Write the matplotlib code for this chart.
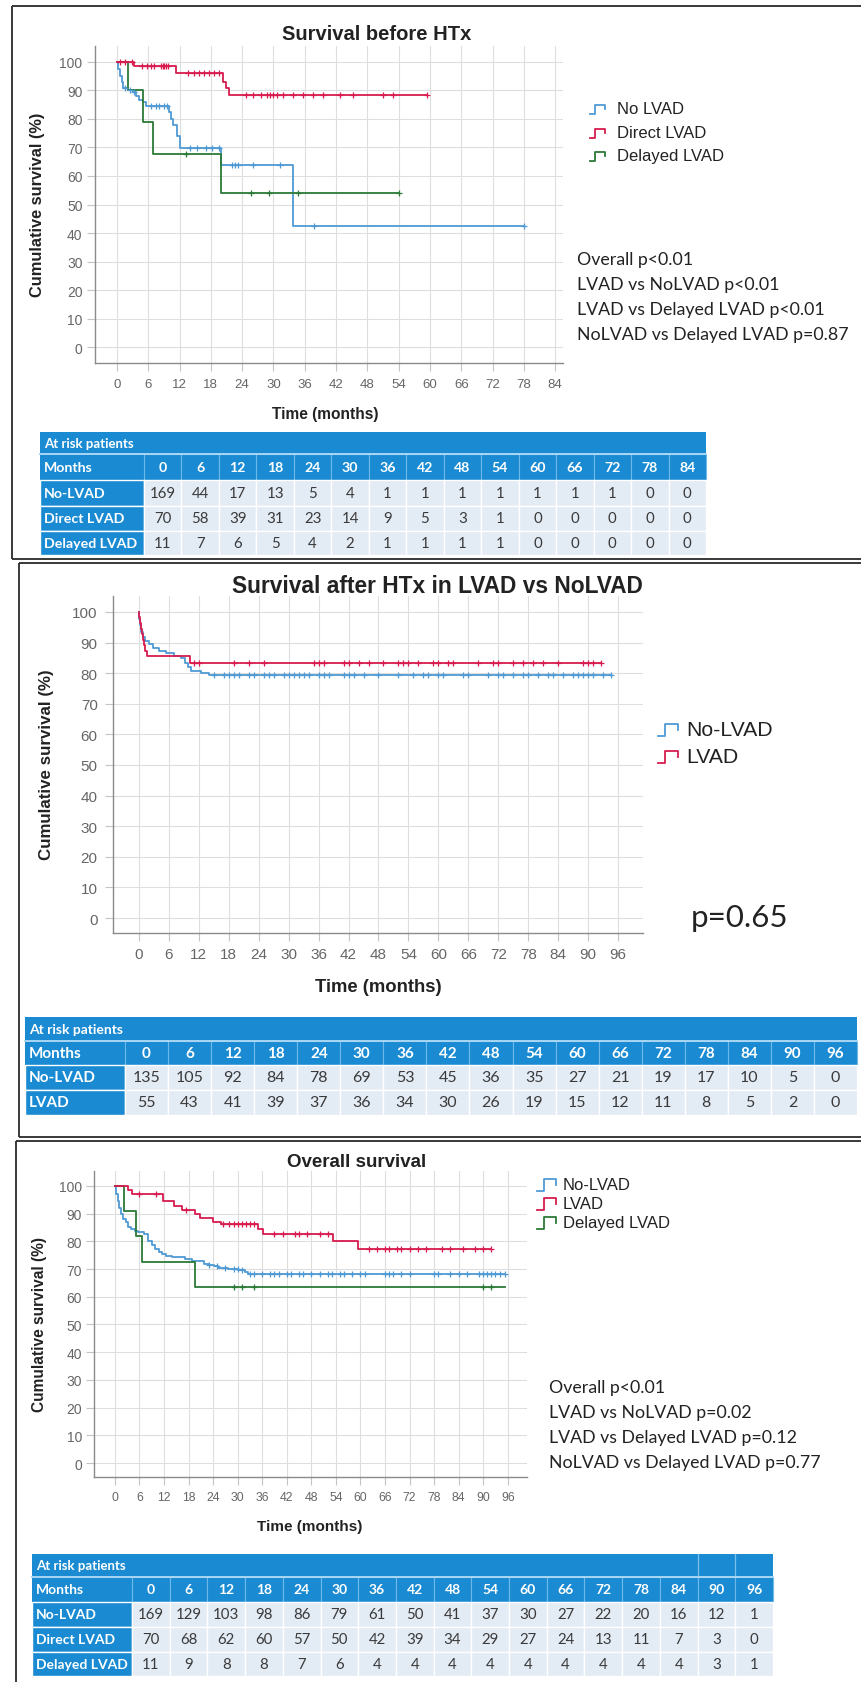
import numpy as np
import matplotlib
matplotlib.use("Agg")
import matplotlib.pyplot as plt
from matplotlib.patches import Rectangle

# ---------------- DATA ----------------
# Panel 1: Survival before HTx
p1_nolvad_t = [0, 0.3, 0.6, 0.9, 1.2, 2.1, 3.0, 3.7, 4.2, 5.0, 5.6, 9.9, 10.4, 10.8, 11.5, 12.0, 19.9, 33.7, 78.0]
p1_nolvad_s = [100, 97.5, 95.0, 93.0, 91.0, 90.2, 89.5, 88.0, 86.6, 85.8, 84.6, 82.3, 79.9, 77.8, 74.0, 69.8, 63.9, 42.6, 42.6]
p1_nolvad_c = [1.5, 2.5, 3.2, 6.5, 7.4, 8.0, 9.0, 9.6, 14.1, 15.4, 17.0, 18.3, 19.5, 22.0, 22.6, 23.2, 26.1, 31.2, 37.7, 78.0]
p1_direct_t = [0, 3.2, 11.4, 20.4, 21.0, 21.5, 59.4]
p1_direct_s = [100, 98.5, 96.0, 92.8, 90.8, 88.4, 88.4]
p1_direct_c = [0.5, 1.5, 2.8, 4.8, 5.7, 6.5, 7.1, 8.5, 8.8, 9.1, 9.4, 9.8, 13.6, 14.8, 15.8, 16.6, 17.6,
               18.7, 19.5, 24.8, 26.1, 27.7, 28.7, 29.3, 29.9, 30.6, 31.8, 33.7, 35.6, 37.6, 39.5, 42.7,
               45.2, 51.0, 52.9, 59.4]
p1_delayed_t = [0, 2.1, 5.0, 6.9, 19.9, 54.1]
p1_delayed_s = [100, 90.2, 78.8, 67.7, 54.0, 54.0]
p1_delayed_c = [13.2, 25.7, 29.2, 34.8, 54.1]

# Panel 2: Survival after HTx in LVAD vs NoLVAD
p2_nolvad_t = [0, 0.1, 0.3, 0.5, 0.8, 1.3, 2.0, 2.8, 4.0, 5.5, 7.0, 8.5, 9.2, 9.8, 10.5, 12.5, 14.0, 94.5]
p2_nolvad_s = [100, 97.8, 95.6, 93.3, 91.9, 90.4, 89.6, 88.1, 87.3, 86.5, 85.7, 84.9, 83.4, 82.0, 80.8, 80.1, 79.4, 79.4]
p2_nolvad_c = [15, 17, 18, 19, 20, 22, 23, 25, 26, 27, 29, 30, 31, 32, 33, 34, 36, 37, 38, 41, 42, 43, 45,
               48, 52, 55, 57, 58, 60, 61, 65, 66, 70, 72, 73, 75, 77, 78, 80, 82, 83, 85, 87, 88, 89, 90,
               91, 93, 94.5]
p2_lvad_t = [0, 0.1, 0.2, 0.4, 0.6, 0.8, 1.0, 1.3, 1.7, 10.3, 92.5]
p2_lvad_s = [100, 98.2, 96.4, 94.5, 92.7, 90.9, 89.1, 87.3, 85.5, 83.4, 83.4]
p2_lvad_c = [11, 12, 19, 22, 25, 35, 36, 37, 41, 42, 44, 46, 49, 52, 53, 54, 56, 59, 60, 62, 63, 68, 71,
             72, 75, 77, 79, 81, 84, 89, 90, 91, 92.5]

# Panel 3: Overall survival
p3_nolvad_t = [0, 0.3, 0.7, 1.0, 1.4, 2.0, 2.6, 3.2, 4.0, 4.8, 5.7, 7.0, 8.2, 9.0, 9.9, 10.7, 11.5, 12.5,
               13.9, 17.2, 18.8, 20.5, 21.8, 22.9, 24.2, 25.3, 27.7, 30.1, 31.8, 32.6, 95.4]
p3_nolvad_s = [100, 97.0, 94.5, 92.0, 89.9, 88.2, 87.0, 85.2, 84.5, 83.8, 83.4, 82.5, 80.1, 78.7, 77.3,
               76.2, 75.5, 74.8, 74.2, 73.5, 73.0, 72.8, 72.0, 71.5, 71.0, 70.4, 70.0, 69.5, 68.9, 68.1, 68.1]
p3_nolvad_c = [23, 25, 27, 29, 30, 31, 33, 34, 36, 38, 39, 40, 42, 43, 45, 46, 48, 50, 52, 53, 55, 56, 58,
               60, 61, 66, 67, 68, 70, 72, 78, 79, 82, 84, 86, 89, 90, 91, 92, 93, 94, 95.4]
p3_lvad_t = [0, 3.1, 4.1, 11.8, 14.5, 16.5, 19.6, 20.8, 24.0, 26.0, 35.0, 36.2, 53.3, 59.5, 92.0]
p3_lvad_s = [100, 98.6, 97.2, 94.5, 92.8, 91.4, 89.9, 88.5, 87.1, 86.3, 84.6, 82.8, 80.2, 77.3, 77.3]
p3_lvad_c = [6, 10, 17.5, 26.5, 28, 29, 30, 31, 32, 33, 34, 39, 41, 44, 45, 47, 50, 52, 62, 64, 66, 67, 69,
             70, 72, 74, 76, 80, 82, 85, 88, 90, 92]
p3_delayed_t = [0, 2.2, 5.1, 6.7, 19.6, 95.4]
p3_delayed_s = [100, 90.9, 81.8, 72.7, 63.6, 63.6]
p3_delayed_c = [29, 31, 34, 90, 92]

# At-risk tables
t1_months = [0, 6, 12, 18, 24, 30, 36, 42, 48, 54, 60, 66, 72, 78, 84]
t1_labels = ["No-LVAD", "Direct LVAD", "Delayed LVAD"]
t1_nolvad = [169, 44, 17, 13, 5, 4, 1, 1, 1, 1, 1, 1, 1, 0, 0]
t1_direct = [70, 58, 39, 31, 23, 14, 9, 5, 3, 1, 0, 0, 0, 0, 0]
t1_delayed = [11, 7, 6, 5, 4, 2, 1, 1, 1, 1, 0, 0, 0, 0, 0]

t2_months = [0, 6, 12, 18, 24, 30, 36, 42, 48, 54, 60, 66, 72, 78, 84, 90, 96]
t2_labels = ["No-LVAD", "LVAD"]
t2_nolvad = [135, 105, 92, 84, 78, 69, 53, 45, 36, 35, 27, 21, 19, 17, 10, 5, 0]
t2_lvad = [55, 43, 41, 39, 37, 36, 34, 30, 26, 19, 15, 12, 11, 8, 5, 2, 0]

t3_months = [0, 6, 12, 18, 24, 30, 36, 42, 48, 54, 60, 66, 72, 78, 84, 90, 96]
t3_labels = ["No-LVAD", "Direct LVAD", "Delayed LVAD"]
t3_nolvad = [169, 129, 103, 98, 86, 79, 61, 50, 41, 37, 30, 27, 22, 20, 16, 12, 1]
t3_direct = [70, 68, 62, 60, 57, 50, 42, 39, 34, 29, 27, 24, 13, 11, 7, 3, 0]
t3_delayed = [11, 9, 8, 8, 7, 6, 4, 4, 4, 4, 4, 4, 4, 4, 4, 3, 1]

p1_stats = ["Overall p<0.01", "LVAD vs NoLVAD p<0.01", "LVAD vs Delayed LVAD p<0.01",
            "NoLVAD vs Delayed LVAD p=0.87"]
p3_stats = ["Overall p<0.01", "LVAD vs NoLVAD p=0.02", "LVAD vs Delayed LVAD p=0.12",
            "NoLVAD vs Delayed LVAD p=0.77"]

# ---------------- STYLE ----------------
BLUE_L = "#4f9ad4"
RED_L = "#d81b4e"
GREEN_L = "#2c7a37"
TBLUE = "#1a8bd3"
TLIGHT = "#e3ebf5"
SANS = "Liberation Sans"
CAL = "Lato"

W, H = 862, 1683
fig = plt.figure(figsize=(W / 100, H / 100), dpi=100)


def ax_px(x0, x1, ytop, ybot):
    return fig.add_axes([x0 / W, 1 - ybot / H, (x1 - x0) / W, (ybot - ytop) / H])


def km_at(t, s, tc):
    t = np.asarray(t); s = np.asarray(s)
    idx = np.searchsorted(t, np.asarray(tc), side="right") - 1
    return s[np.clip(idx, 0, len(s) - 1)]


def draw_km(ax, t, s, c, color):
    ax.step(t, s, where="post", color=color, lw=1.3, zorder=3)
    ax.plot(c, km_at(t, s, c), ls="none", marker="+", ms=5, mew=0.9, color=color, zorder=4)


def style_ax(ax, xlim, ylim, xticks, xfs, yfs, xpad, ypad):
    ax.set_xlim(*xlim)
    ax.set_ylim(*ylim)
    ax.set_xticks(xticks)
    ax.set_yticks(range(0, 101, 10))
    ax.grid(True, color="#dedede", lw=0.8)
    ax.set_axisbelow(True)
    for sp in ["top", "right"]:
        ax.spines[sp].set_visible(False)
    for sp in ["left", "bottom"]:
        ax.spines[sp].set_color("#8a8a8a")
        ax.spines[sp].set_linewidth(1.0)
    ax.tick_params(axis="both", direction="out", length=5.5, width=0.8, color="#c4c4c4",
                   labelcolor="#666666")
    ax.tick_params(axis="x", labelsize=xfs, pad=xpad)
    ax.tick_params(axis="y", labelsize=yfs, pad=ypad)
    for lab in ax.get_xticklabels() + ax.get_yticklabels():
        lab.set_family(SANS)
    ax.patch.set_alpha(0)


# Panel axes
ax1 = ax_px(95, 563, 47, 364)
style_ax(ax1, (-4.2, 85.5), (-5.6, 105.6), t1_months, 9.5, 10, 5, 3.5)
draw_km(ax1, p1_nolvad_t, p1_nolvad_s, p1_nolvad_c, BLUE_L)
draw_km(ax1, p1_delayed_t, p1_delayed_s, p1_delayed_c, GREEN_L)
draw_km(ax1, p1_direct_t, p1_direct_s, p1_direct_c, RED_L)

ax2 = ax_px(113, 643, 597, 934)
style_ax(ax2, (-5.2, 101.0), (-4.9, 105.2), t2_months, 11, 11, 4.5, 5.5)
draw_km(ax2, p2_nolvad_t, p2_nolvad_s, p2_nolvad_c, BLUE_L)
draw_km(ax2, p2_lvad_t, p2_lvad_s, p2_lvad_c, RED_L)

ax3 = ax_px(94, 527, 1172, 1478)
style_ax(ax3, (-5.1, 100.7), (-5.05, 105.4), t3_months, 8.8, 10, 4.5, 3)
draw_km(ax3, p3_nolvad_t, p3_nolvad_s, p3_nolvad_c, BLUE_L)
draw_km(ax3, p3_delayed_t, p3_delayed_s, p3_delayed_c, GREEN_L)
draw_km(ax3, p3_lvad_t, p3_lvad_s, p3_lvad_c, RED_L)

# Overlay in pixel coordinates
ov = fig.add_axes([0, 0, 1, 1])
ov.set_xlim(0, W)
ov.set_ylim(H, 0)
ov.axis("off")
ov.set_zorder(10)
ov.patch.set_visible(False)

# panel frames
FR = dict(color="#2a2a2a", lw=1.3, solid_capstyle="butt")
ov.plot([12, W], [7, 7], **FR)
ov.plot([12, 12], [7, 560], **FR)
ov.plot([12, W], [560, 560], **FR)
ov.plot([19, W], [563.5, 563.5], **FR)
ov.plot([19, 19], [563.5, 1137.5], **FR)
ov.plot([19, W], [1137.5, 1137.5], **FR)
ov.plot([16, W], [1141.5, 1141.5], **FR)
ov.plot([16, 16], [1141.5, H], **FR)

TXT = "#222222"


def t(x, y, s, **kw):
    kw.setdefault("color", TXT)
    ov.text(x, y, s, **kw)


# titles and axis labels
t(377, 34, "Survival before HTx", ha="center", va="center", fontsize=14.5, fontweight="bold", family=SANS)
t(38, 205, "Cumulative survival (%)", ha="center", va="center", rotation=90, fontsize=11.8, fontweight="bold", family=SANS)
t(325, 415, "Time (months)", ha="center", va="center", fontsize=11.2, fontweight="bold", family=SANS)

t(437, 587, "Survival after HTx in LVAD vs NoLVAD", ha="center", va="center", fontsize=16.4, fontweight="bold", family=SANS)
t(47, 765, "Cumulative survival (%)", ha="center", va="center", rotation=90, fontsize=12.2, fontweight="bold", family=SANS)
t(378, 988, "Time (months)", ha="center", va="center", fontsize=13.3, fontweight="bold", family=SANS)

t(357, 1163, "Overall survival", ha="center", va="center", fontsize=13.5, fontweight="bold", family=SANS)
t(40, 1325, "Cumulative survival (%)", ha="center", va="center", rotation=90, fontsize=11.2, fontweight="bold", family=SANS)
t(310, 1527, "Time (months)", ha="center", va="center", fontsize=11, fontweight="bold", family=SANS)


# legends
def legend_entry(x0, x1, y, color, label, tx, fs):
    h = (x1 - x0) * 0.6
    xs = [x0, x0 + 0.35 * (x1 - x0), x0 + 0.35 * (x1 - x0), x1, x1]
    ys = [y + h / 2, y + h / 2, y - h / 2, y - h / 2, y]
    ov.plot(xs, ys, color=color, lw=1.3)
    t(tx, y, label, ha="left", va="center", fontsize=fs, family=SANS)


legend_entry(590, 605, 110, BLUE_L, "No LVAD", 617, 12)
legend_entry(590, 605, 134, RED_L, "Direct LVAD", 617, 12)
legend_entry(590, 605, 157, GREEN_L, "Delayed LVAD", 617, 12)

legend_entry(658, 678, 731, BLUE_L, "No-LVAD", 686, 15.3)
legend_entry(658, 678, 758, RED_L, "LVAD", 686, 15.3)

legend_entry(537, 556, 1186, BLUE_L, "No-LVAD", 563, 12)
legend_entry(537, 556, 1205, RED_L, "LVAD", 563, 12)
legend_entry(537, 556, 1224, GREEN_L, "Delayed LVAD", 563, 12)

# statistics text
for i, s in enumerate(p1_stats):
    t(577, 260 + 25 * i, s, ha="left", va="center", fontsize=12.8, family=CAL)
for i, s in enumerate(p3_stats):
    t(549, 1388 + 25 * i, s, ha="left", va="center", fontsize=12.8, family=CAL)
t(691, 918, "p=0.65", ha="left", va="center", fontsize=22.5, family=CAL)


# at-risk tables
def draw_table(x0, label_w, col_w, row_edges, months, labels, rows, fs_head, fs_lab, fs_num,
               head_seps=()):
    ncol = len(months)
    total_w = label_w + ncol * col_w
    y0, y1 = row_edges[0], row_edges[1]
    ov.add_patch(Rectangle((x0, y0), total_w, y1 - y0, fc=TBLUE, ec="none"))
    for k in head_seps:
        xs = x0 + label_w + k * col_w
        ov.plot([xs, xs], [y0, y1], color="#7cc0ea", lw=0.9)
    t(x0 + 4, (y0 + y1) / 2, "At risk patients", ha="left", va="center", fontsize=fs_head,
      fontweight="bold", family=CAL, color="white")
    ov.plot([x0, x0 + total_w], [y1, y1], color="#a9d6f3", lw=1.4)
    # months row
    y0, y1 = row_edges[1], row_edges[2]
    ov.add_patch(Rectangle((x0, y0), label_w, y1 - y0, fc=TBLUE, ec="none"))
    t(x0 + 4, (y0 + y1) / 2, "Months", ha="left", va="center", fontsize=fs_lab, fontweight="bold",
      family=CAL, color="white")
    for j, m in enumerate(months):
        cx = x0 + label_w + j * col_w
        ov.add_patch(Rectangle((cx, y0), col_w, y1 - y0, fc=TBLUE, ec="#6fb9e9", lw=0.8))
        t(cx + col_w / 2, (y0 + y1) / 2, str(m), ha="center", va="center", fontsize=fs_lab,
          fontweight="bold", family=CAL, color="white")
    # data rows
    for i, (lab, vals) in enumerate(zip(labels, rows)):
        y0, y1 = row_edges[2 + i], row_edges[3 + i]
        ov.add_patch(Rectangle((x0, y0), label_w, y1 - y0, fc=TBLUE, ec="white", lw=1.0))
        t(x0 + 4, (y0 + y1) / 2, lab, ha="left", va="center", fontsize=fs_lab, fontweight="bold",
          family=CAL, color="white")
        for j, v in enumerate(vals):
            cx = x0 + label_w + j * col_w
            ov.add_patch(Rectangle((cx, y0), col_w, y1 - y0, fc=TLIGHT, ec="white", lw=1.0))
            t(cx + col_w / 2, (y0 + y1) / 2, str(v), ha="center", va="center", fontsize=fs_num,
              family=CAL, color="#3a3a3a")


draw_table(40, 104, (706 - 144) / 15, [433, 455, 481, 507, 532, 556], t1_months, t1_labels,
           [t1_nolvad, t1_direct, t1_delayed], 9.5, 10.2, 10.8)
draw_table(25, 100, (857 - 125) / 17, [1018, 1042, 1066, 1091, 1116], t2_months, t2_labels,
           [t2_nolvad, t2_lvad], 10, 11, 11.5)
draw_table(32, 100, (773 - 132) / 17, [1555, 1578, 1603, 1628, 1653, 1677], t3_months, t3_labels,
           [t3_nolvad, t3_direct, t3_delayed], 9.5, 10.0, 10.8, head_seps=(15, 16))

fig.savefig("out.png", dpi=100, facecolor="white")
